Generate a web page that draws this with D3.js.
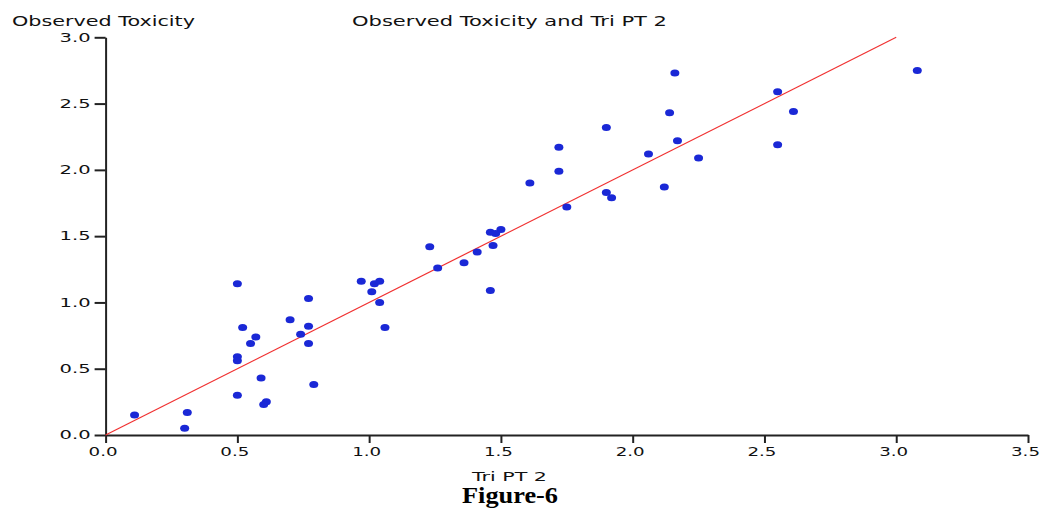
<!DOCTYPE html>
<html>
<head>
<meta charset="utf-8">
<title>Observed Toxicity and Tri PT 2</title>
<script src="https://d3js.org/d3.v7.min.js"></script>
<style>
    body { margin: 0; padding: 0; background: #fff; }
    svg { display: block; }
    .tick text { font-family: 'DejaVu Sans', sans-serif; font-size: 12px; fill: #111; }
    .lbl { font-family: 'DejaVu Sans', sans-serif; fill: #111; }
</style>
</head>
<body>
<div id="chart"></div>
<script>
// observed points: Tri PT 2 (x) vs Observed Toxicity (y)
const triPT2 = [0.11, 0.31, 0.30, 0.50, 0.52, 0.57, 0.55, 0.50, 0.50, 0.59,
    0.50, 0.61, 0.60, 0.97, 1.02, 1.04, 1.01, 1.04, 1.06, 0.77,
    0.70, 0.77, 0.74, 0.77, 0.79, 1.23, 1.26, 1.36, 1.41, 1.46,
    1.46, 1.47, 1.50, 1.48, 1.61, 1.72, 1.72, 1.75, 1.90, 1.92,
    1.90, 2.06, 2.12, 2.14, 2.16, 2.17, 2.25, 2.55, 2.55, 2.61, 3.08];
const observed = [0.15, 0.17, 0.05, 1.14, 0.81, 0.74, 0.69, 0.59, 0.56, 0.43,
    0.30, 0.25, 0.23, 1.16, 1.14, 1.16, 1.08, 1.00, 0.81, 1.03,
    0.87, 0.82, 0.76, 0.69, 0.38, 1.42, 1.26, 1.30, 1.38, 1.09,
    1.53, 1.43, 1.55, 1.52, 1.90, 2.17, 1.99, 1.72, 1.83, 1.79,
    2.32, 2.12, 1.87, 2.43, 2.73, 2.22, 2.09, 2.59, 2.19, 2.44, 2.75];

// reference line y = x
const lineX = [0, 3];
const lineY = [0, 3];

const xTicks = [0, 0.5, 1.0, 1.5, 2.0, 2.5, 3.0, 3.5];
const yTicks = [0, 0.5, 1.0, 1.5, 2.0, 2.5, 3.0];

const width = 1044, height = 512;

const svg = d3.select("#chart").append("svg")
    .attr("width", width)
    .attr("height", height);

const x = d3.scaleLinear().domain([0, 3.5]).range([105.6, 1028]);
const y = d3.scaleLinear().domain([0, 3]).range([435, 37.3]);

const fmt = d3.format(".1f");

// x axis
const xAxis = svg.append("g")
    .attr("transform", `translate(0,${y(0)})`)
    .call(d3.axisBottom(x).tickValues(xTicks).tickFormat(fmt).tickSize(8).tickSizeOuter(0).tickPadding(4));
xAxis.select(".domain").attr("stroke", "#222").attr("stroke-width", 2);
xAxis.selectAll(".tick line").attr("stroke", "#222").attr("stroke-width", 2);
xAxis.selectAll(".tick text")
    .attr("x", -3)
    .attr("textLength", 29).attr("lengthAdjust", "spacingAndGlyphs");

// y axis
const yAxis = svg.append("g")
    .attr("transform", `translate(${x(0)},0)`)
    .call(d3.axisLeft(y).tickValues(yTicks).tickFormat(fmt).tickSize(11).tickSizeOuter(0).tickPadding(4));
yAxis.select(".domain").attr("stroke", "#222").attr("stroke-width", 2);
yAxis.selectAll(".tick line").attr("stroke", "#222").attr("stroke-width", 2);
yAxis.selectAll(".tick text")
    .attr("textLength", 31).attr("lengthAdjust", "spacingAndGlyphs");

// red line
svg.append("line")
    .attr("x1", x(lineX[0])).attr("y1", y(lineY[0]))
    .attr("x2", x(lineX[1])).attr("y2", y(lineY[1]))
    .attr("stroke", "#f03030")
    .attr("stroke-width", 1.2);

// points
svg.append("g").selectAll("ellipse")
    .data(triPT2.map((d, i) => [d, observed[i]]))
    .join("ellipse")
    .attr("cx", d => x(d[0]))
    .attr("cy", d => y(d[1]))
    .attr("rx", 4.5)
    .attr("ry", 3.5)
    .attr("fill", "#1a28d6");

// titles
svg.append("text").attr("class", "lbl")
    .attr("x", 12).attr("y", 26)
    .attr("font-size", 14)
    .attr("textLength", 183).attr("lengthAdjust", "spacingAndGlyphs")
    .text("Observed Toxicity");

svg.append("text").attr("class", "lbl")
    .attr("x", 352).attr("y", 26)
    .attr("font-size", 14)
    .attr("textLength", 315).attr("lengthAdjust", "spacingAndGlyphs")
    .text("Observed Toxicity and Tri PT 2");

svg.append("text").attr("class", "lbl")
    .attr("x", 472).attr("y", 481)
    .attr("font-size", 13)
    .attr("textLength", 75).attr("lengthAdjust", "spacingAndGlyphs")
    .text("Tri PT 2");

svg.append("text")
    .attr("x", 462).attr("y", 503)
    .attr("font-family", "'Liberation Serif', 'Times New Roman', serif")
    .attr("font-weight", "bold")
    .attr("font-size", 24)
    .attr("textLength", 96).attr("lengthAdjust", "spacingAndGlyphs")
    .attr("fill", "#000")
    .text("Figure-6");
</script>
</body>
</html>
